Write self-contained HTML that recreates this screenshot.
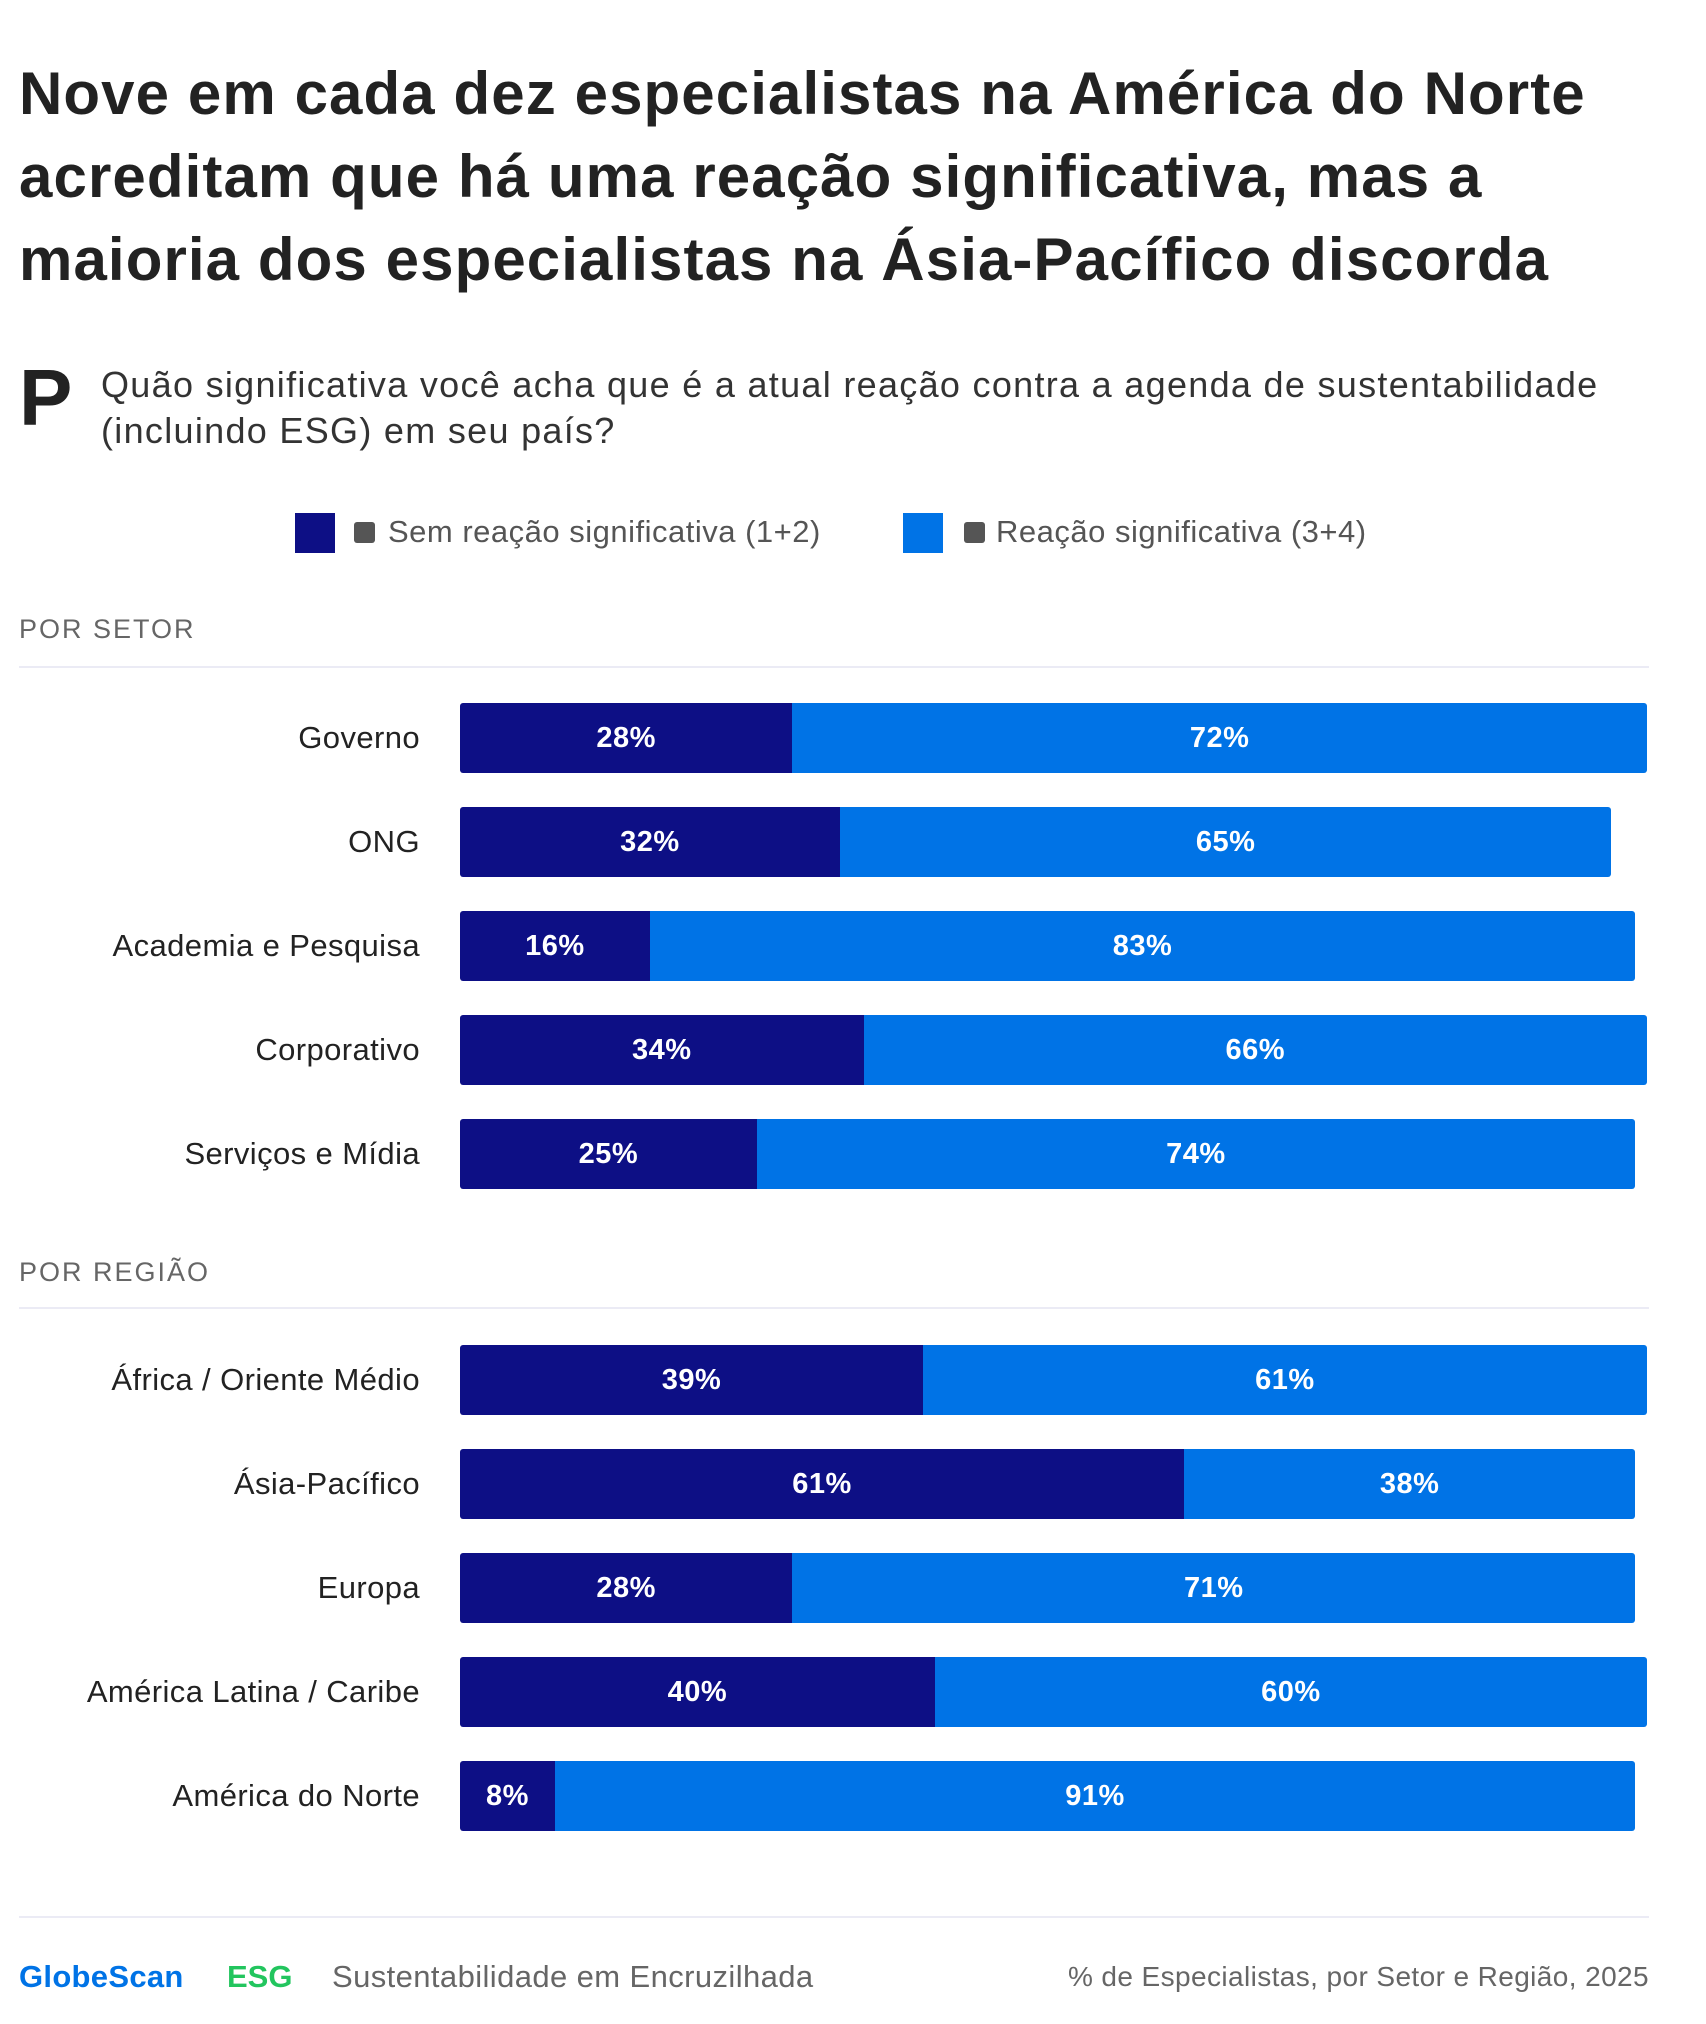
<!DOCTYPE html>
<html><head><meta charset="utf-8"><style>
body{margin:0;width:1706px;height:2024px;background:#fff;font-family:"Liberation Sans",sans-serif;position:relative;overflow:hidden}
.a{position:absolute;white-space:nowrap}
h1{position:absolute;left:19px;top:52px;margin:0;font-size:60px;line-height:83px;font-weight:700;color:#222;letter-spacing:1.1px}
</style></head><body>
<h1>Nove em cada dez especialistas na América do Norte<br>acreditam que há uma reação significativa, mas a<br>maioria dos especialistas na Ásia-Pacífico discorda</h1>
<div class="a" style="left:19px;top:358px;font-size:80px;font-weight:700;color:#222;line-height:80px">P</div>
<div class="a" style="left:101px;top:362px;font-size:36px;line-height:46px;color:#333;letter-spacing:1.3px">Quão significativa você acha que é a atual reação contra a agenda de sustentabilidade<br>(incluindo ESG) em seu país?</div>
<div>
<div class="a" style="left:295px;top:513px;width:40px;height:40px;background:#0d0f85"></div>
<div class="a" style="left:354px;top:522px;width:21px;height:21px;background:#555;border-radius:3px"></div>
<div class="a" style="left:388px;top:514px;font-size:31px;color:#555;letter-spacing:0.5px">Sem reação significativa (1+2)</div>
<div class="a" style="left:903px;top:513px;width:40px;height:40px;background:#0073e6"></div>
<div class="a" style="left:964px;top:522px;width:21px;height:21px;background:#555;border-radius:3px"></div>
<div class="a" style="left:996px;top:514px;font-size:31px;color:#555;letter-spacing:0.5px">Reação significativa (3+4)</div>
</div>
<div class="a" style="left:19px;top:614px;font-size:27px;color:#666;letter-spacing:2px">POR SETOR</div>
<div class="a" style="left:19px;top:666px;width:1630px;height:2px;background:#ebebf5"></div>
<div class="a" style="left:19px;top:1257px;font-size:27px;color:#666;letter-spacing:2px">POR REGIÃO</div>
<div class="a" style="left:19px;top:1307px;width:1630px;height:2px;background:#ebebf5"></div>
<div id="chart"></div>
<div class="a" style="left:19px;top:1916px;width:1630px;height:2px;background:#ebebf5"></div>
<div class="a" style="left:19px;top:1959px;font-size:31px;font-weight:700;color:#0073e6;letter-spacing:0.3px">GlobeScan</div>
<div class="a" style="left:227px;top:1959px;font-size:31px;font-weight:700;color:#22c55e">ESG</div>
<div class="a" style="left:332px;top:1959px;font-size:31px;color:#666;letter-spacing:0.4px">Sustentabilidade em Encruzilhada</div>
<div class="a" style="right:57px;top:1961px;font-size:28px;color:#666;letter-spacing:0.4px">% de Especialistas, por Setor e Região, 2025</div>
<script>
const sectorCats=["Governo","ONG","Academia e Pesquisa","Corporativo","Serviços e Mídia"];
const sectorNo=[28,32,16,34,25];
const sectorYes=[72,65,83,66,74];
const regionCats=["África / Oriente Médio","Ásia-Pacífico","Europa","América Latina / Caribe","América do Norte"];
const regionNo=[39,61,28,40,8];
const regionYes=[61,38,71,60,91];
const x0=460,x1=1647,barH=70,step=104;
const xs=v=>v/100*(x1-x0);
const chart=document.getElementById('chart');
function div(css,txt){const d=document.createElement('div');d.className='a';d.style.cssText=css;if(txt!==undefined)d.textContent=txt;chart.appendChild(d);return d;}
function group(cats,no,yes,top0){
 cats.forEach((c,i)=>{
  const cy=top0+i*step,top=cy-barH/2;
  const l=div(`right:${1706-420}px;top:${cy-19}px;font-size:31px;color:#222;line-height:38px;letter-spacing:0.4px`,c);
  
  
  const w1=xs(no[i]),w2=xs(yes[i]);
  const b1=div(`left:${x0}px;top:${top}px;width:${w1}px;height:${barH}px;background:#0d0f85;border-radius:3px 0 0 3px`);
  
  
  const b2=div(`left:${x0+w1}px;top:${top}px;width:${w2}px;height:${barH}px;background:#0073e6;border-radius:0 3px 3px 0`);
  
  
  const t1=div(`left:${x0}px;width:${w1}px;top:${cy-19}px;text-align:center;font-size:29px;font-weight:700;color:#fff;line-height:38px;letter-spacing:0.5px`,no[i]+'%');
  
  
  const t2=div(`left:${x0+w1}px;width:${w2}px;top:${cy-19}px;text-align:center;font-size:29px;font-weight:700;color:#fff;line-height:38px;letter-spacing:0.5px`,yes[i]+'%');
  
  
 });
}
group(sectorCats,sectorNo,sectorYes,738);
group(regionCats,regionNo,regionYes,1380);
</script>
</body></html>
